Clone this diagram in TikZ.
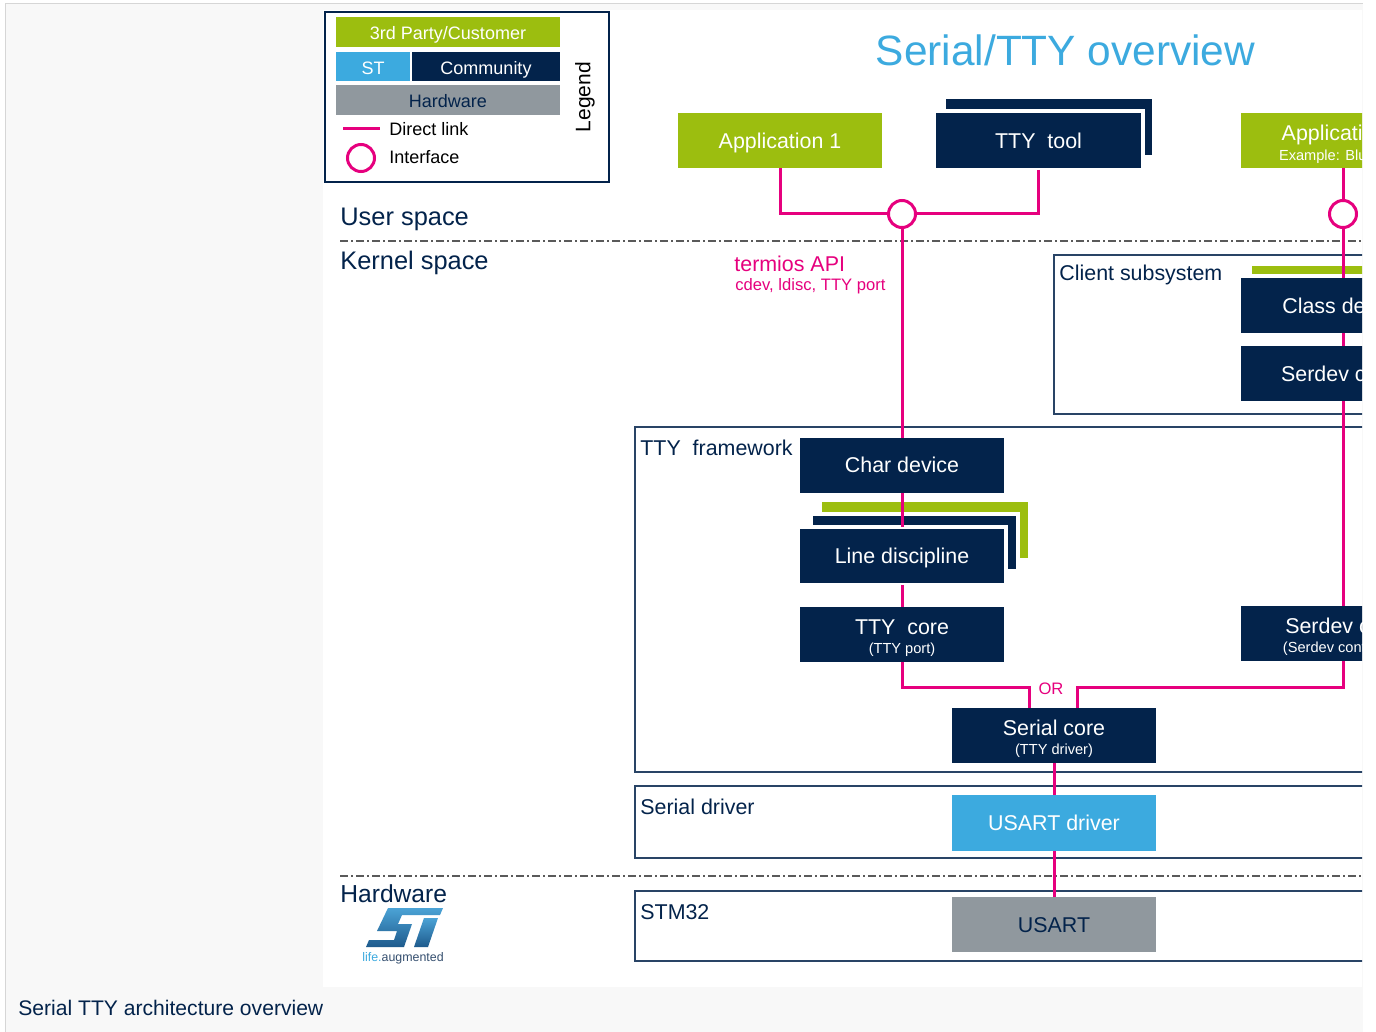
\documentclass[tikz,border=0pt]{standalone}
\usepackage{fontspec}
\setmainfont{Liberation Sans}
\usepackage{tikz}

\definecolor{stgreen}{HTML}{9CBE0F}
\definecolor{stnavy}{HTML}{03234B}
\definecolor{stblue}{HTML}{3CAADF}
\definecolor{stgrey}{HTML}{90989E}
\definecolor{stpink}{HTML}{E6007E}
\definecolor{pagegrey}{HTML}{F8F8F8}
\definecolor{pageline}{HTML}{D6D6D6}
\definecolor{dashgrey}{HTML}{5A5A5A}
\definecolor{stlogolight}{HTML}{4BA3D6}
\definecolor{stlogodark}{HTML}{1E5A8C}

\newcommand{\lblfont}{\fontsize{10.7}{11}\selectfont}
\newcommand{\subfont}{\fontsize{7.3}{8}\selectfont}
\newcommand{\legfont}{\fontsize{9}{10}\selectfont}
\newcommand{\secfont}{\fontsize{12.7}{14}\selectfont}
\newcommand{\uprule}{\rule{0pt}{11.5pt}}

\tikzset{
  blk/.style={rectangle, inner sep=0pt, outer sep=0pt, minimum width=102pt, minimum height=27.5pt, align=center, text=white, font=\lblfont, text height=9pt, text depth=1.2pt},
  twoline/.style={text height=, text depth=},
  navyblk/.style={blk, fill=stnavy},
  greenblk/.style={blk, fill=stgreen},
  blueblk/.style={blk, fill=stblue},
  greyblk/.style={blk, fill=stgrey, text=stnavy},
  layer/.style={draw=white, line width=2pt},
  link/.style={draw=stpink, line width=1.5pt},
  iface/.style={circle, draw=stpink, line width=1.5pt, fill=white, minimum size=13.5pt, inner sep=0pt, outer sep=0pt},
  region/.style={draw=stnavy!85, line width=0.75pt},
  regionlbl/.style={anchor=base west, inner sep=0pt, text=stnavy, font=\lblfont},
  spacelbl/.style={anchor=base west, inner sep=0pt, text=stnavy, font=\secfont},
  splitline/.style={draw=dashgrey, line width=0.75pt, dash pattern=on 4pt off 1.5pt on 1pt off 1.5pt},
}

\begin{document}
\begin{tikzpicture}[x=0.5pt,y=-0.5pt]
\useasboundingbox (0,0) rectangle (1376,1032);
\fill[white] (0,0) rectangle (1376,1032);
\fill[pagegrey] (5,4) rectangle (1363,1032);
\draw[pageline, line width=0.5pt] (5,1032) -- (5,4) -- (1363,4);
\fill[white] (323,10) rectangle (1362,987);
\node[anchor=base west, inner sep=0pt, text=stnavy, font=\fontsize{10.55}{12}\selectfont] (caption) at (18,1015) {Serial TTY architecture overview};

\begin{scope}
\clip (323,10) rectangle (1362,987);

% legend
\draw[stnavy, line width=1pt] (325,12) rectangle (609,182);
\node[greenblk, minimum width=112pt, minimum height=15pt, font=\legfont] (legcust) at (448,32) {3rd Party/Customer};
\node[blueblk, minimum width=37pt, minimum height=14.5pt, font=\legfont] (legst) at (373,66.5) {ST};
\node[navyblk, minimum width=74pt, minimum height=14.5pt, font=\legfont] (legcomm) at (486,66.5) {Community};
\node[greyblk, minimum width=112pt, minimum height=15pt, font=\legfont] (leghw) at (448,100) {Hardware};
\coordinate (legla) at (343,129);
\coordinate (leglb) at (380,129);
\draw[link] (legla) -- (leglb);
\node[anchor=base west, inner sep=0pt, font=\legfont] (legdirect) at (389,136) {Direct link};
\node[iface] (legif) at (361,158) {};
\node[anchor=base west, inner sep=0pt, font=\legfont] (leginterface) at (389,164) {Interface};
\node[rotate=90, inner sep=0pt, font=\fontsize{10.5}{12}\selectfont] (legtitle) at (585,97) {Legend};

\node[anchor=base, inner sep=0pt, text=stblue, font=\fontsize{21.2}{24}\selectfont] (title) at (1065.5,66) {Serial/TTY overview};

% spaces
\node[spacelbl] (userlbl) at (340,226) {User space};
\node[spacelbl] (kernellbl) at (340,270) {Kernel space};
\node[spacelbl, font=\fontsize{12.3}{14}\selectfont] (hwlbl) at (340,902) {Hardware};
\coordinate (ukl) at (340,241);
\coordinate (ukr) at (1362,241);
\draw[splitline] (ukl) -- (ukr);
\coordinate (khl) at (340,876);
\coordinate (khr) at (1362,876);
\draw[splitline] (khl) -- (khr);

\shade[top color=stlogolight, bottom color=stlogodark] (388,908) -- (443,908) -- (440,915) -- (402,915) -- (398,924) -- (412,924) -- (404,947) -- (366,947) -- (369,940) -- (394,940) -- (397,931) -- (377,931) -- cycle;
\shade[top color=stlogolight, bottom color=stlogodark] (424,918) -- (438,918) -- (428,947) -- (414,947) -- cycle;
\node[anchor=base, inner sep=0pt, font=\fontsize{6.2}{7}\selectfont] (stmotto) at (403,961) {\textcolor{stblue}{life.}\textcolor{stnavy!80}{augmented}};

% user space
\node[greenblk] (app1) at (780,140.5) {Application 1};
\node[navyblk, minimum width=103pt, minimum height=28pt] (toolback) at (1049,127) {};
\node[navyblk, layer, minimum width=104.5pt, minimum height=29.5pt] (tool) at (1038.5,140.5) {TTY\ \ tool};
\node[greenblk, twoline] (app2) at (1343,140.5) {\uprule Application 2\\[-1.2pt]{\subfont Example: Bluetooth}};
\node[iface] (ifa) at (902,214) {};
\node[iface] (ifb) at (1343,214) {};

% kernel space
\node[anchor=base west, inner sep=0pt, text=stpink, font=\lblfont] (termios) at (734,271) {termios API};
\node[anchor=base west, inner sep=0pt, text=stpink, font=\fontsize{8.3}{9}\selectfont] (termiosarg) at (735,291) {cdev, ldisc, TTY port};

\draw[region] (1054,255) rectangle (1400,414);
\node[regionlbl] (clientlbl) at (1059,281) {Client subsystem};
\fill[stgreen] (1252,266) rectangle (1400,274);
\node[navyblk] (classdev) at (1343,305.5) {Class device};
\node[navyblk] (sdclient) at (1343,373.5) {Serdev client};

\draw[region] (635,427) rectangle (1400,772);
\node[regionlbl] (ttyfwlbl) at (640,455) {TTY\ \ framework};
\node[navyblk] (chardev) at (902,465) {Char device};
\node[greenblk, minimum width=103pt, minimum height=28pt] (ldiscgreen) at (925,530) {};
\node[navyblk, layer, minimum width=103.5pt, minimum height=28.5pt] (ldiscnavy) at (914.5,542) {};
\node[navyblk, layer, minimum width=104pt, minimum height=29pt] (ldisc) at (902,556) {Line discipline};
\node[navyblk, twoline] (ttycore) at (902,634) {\uprule TTY\ \ core\\[-1.2pt]{\subfont (TTY port)}};
\node[navyblk, twoline] (sdcore) at (1343,633) {\uprule Serdev core\\[-1.2pt]{\subfont (Serdev controller)}};
\node[navyblk, twoline] (sercore) at (1054,735) {\uprule Serial core\\[-1.2pt]{\subfont (TTY driver)}};
\node[inner sep=0pt, text=stpink, font=\fontsize{8.3}{9}\selectfont] (orlbl) at (1051,689) {OR};

\draw[region] (635,786) rectangle (1400,858);
\node[regionlbl] (serdrvlbl) at (640,814) {Serial driver};
\node[blueblk, minimum height=28pt] (usartdrv) at (1054,823) {USART driver};

\draw[region] (635,891) rectangle (1400,961);
\node[regionlbl] (stm32lbl) at (640,919) {STM32};
\node[greyblk] (usart) at (1054,924.5) {USART};

% links
\draw[link] (app1.south) |- (ifa.west);
\draw[link] (tool.south) |- (ifa.east);
\draw[link] (ifa.south) -- (chardev.north);
\draw[link] (chardev.south) -- (ldisc.north);
\draw[link] (ldisc.south) -- (ttycore.north);
\draw[link] (ttycore.south) -- ++(0,26) -| ([xshift=-12.5pt]sercore.north);
\draw[link] (app2.south) -- (ifb.north);
\draw[link] (ifb.south) -- (classdev.north);
\draw[link] (classdev.south) -- (sdclient.north);
\draw[link] (sdclient.south) -- (sdcore.north);
\draw[link] (sdcore.south) -- ++(0,27) -| ([xshift=11.5pt]sercore.north);
\draw[link] (sercore.south) -- (usartdrv.north);
\draw[link] (usartdrv.south) -- (usart.north);
\end{scope}
\end{tikzpicture}
\end{document}
